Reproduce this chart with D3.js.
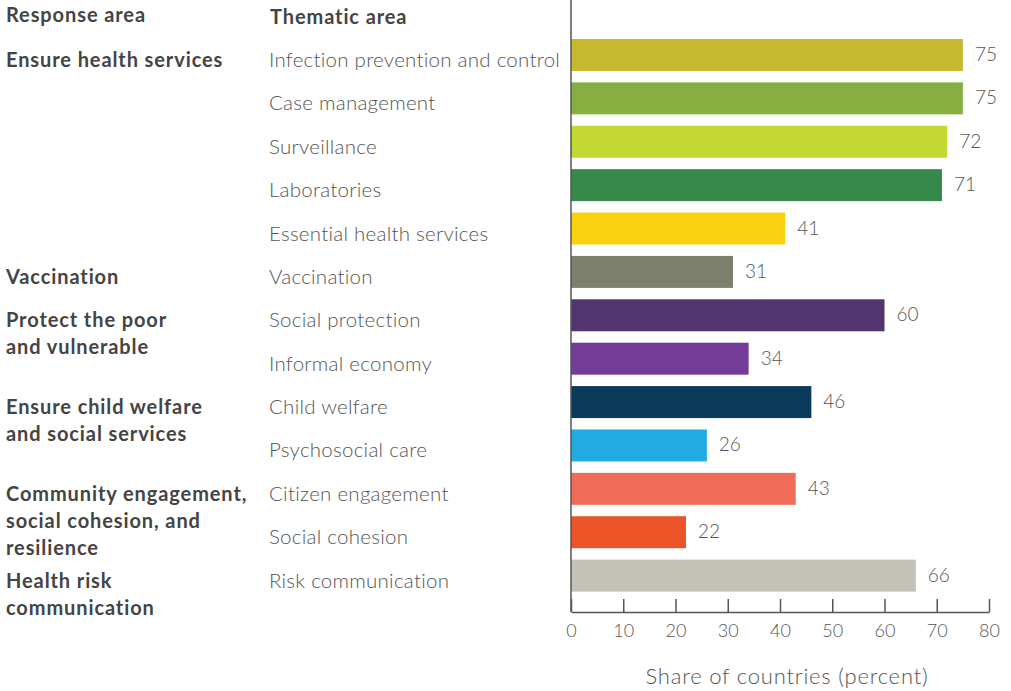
<!DOCTYPE html>
<html>
<head>
<meta charset="utf-8">
<script src="https://cdn.jsdelivr.net/npm/d3@7"></script>
<style>
  body { margin: 0; background: #fff; }
  text { font-family: Lato, "Open Sans", sans-serif; }
  .head, .resp { font-weight: 700; font-size: 20px; fill: #444; letter-spacing: 0.9px; }
  .theme { font-weight: 300; font-size: 20.5px; fill: #555; letter-spacing: 0.25px; }
  .title { font-weight: 300; font-size: 22px; fill: #555; letter-spacing: 0.8px; }
  .val { font-weight: 300; font-size: 19px; fill: #555; }
  .axis text { font-family: Lato, sans-serif; font-weight: 300; font-size: 18px; fill: #555; }
  .axis path, .axis line { stroke: #555; stroke-width: 1.5; }
</style>
</head>
<body>
<svg id="chart" width="1011" height="691"></svg>
<script>
// thematic areas, one bar each
var thematic = [
  "Infection prevention and control", "Case management", "Surveillance",
  "Laboratories", "Essential health services", "Vaccination",
  "Social protection", "Informal economy", "Child welfare",
  "Psychosocial care", "Citizen engagement", "Social cohesion",
  "Risk communication"
];
var shares = [75, 75, 72, 71, 41, 31, 60, 34, 46, 26, 43, 22, 66];
var barColors = [
  "#c5ba2f", "#85af40", "#c3d833", "#36884b", "#f9d10f", "#7c7f6b",
  "#52346f", "#733c96", "#0a3a5b", "#21abe2", "#f06b58", "#ea5427", "#c2c2b9"
];

// response areas (lines of text) and the thematic row they start on
var responseAreas = [
  ["Ensure health services"],
  ["Vaccination"],
  ["Protect the poor", "and vulnerable"],
  ["Ensure child welfare", "and social services"],
  ["Community engagement,", "social cohesion, and", "resilience"],
  ["Health risk", "communication"]
];
var responseStart = [0, 5, 6, 8, 10, 12];

var xTicks = [0, 10, 20, 30, 40, 50, 60, 70, 80];

var svg = d3.select("#chart"),
    left = 571, right = 989, top = 33, bottom = 612;

var x = d3.scaleLinear().domain([0, 80]).range([left, right]);
var y = d3.scaleBand().domain(d3.range(thematic.length))
    .range([39, 591.6]).paddingInner(0.263).paddingOuter(0);

// column headings
svg.append("text").attr("class", "head").attr("x", 6).attr("y", 22).text("Response area");
svg.append("text").attr("class", "head").attr("x", 270).attr("y", 24).text("Thematic area");

// bars
svg.selectAll("rect.bar")
    .data(shares)
    .enter().append("rect")
    .attr("class", "bar")
    .attr("x", x(0))
    .attr("y", function(d, i) { return y(i); })
    .attr("width", function(d) { return x(d) - x(0); })
    .attr("height", y.bandwidth())
    .attr("fill", function(d, i) { return barColors[i]; });

// value labels
svg.selectAll("text.val")
    .data(shares)
    .enter().append("text")
    .attr("class", "val")
    .attr("x", function(d) { return x(d) + 12; })
    .attr("y", function(d, i) { return y(i) + y.bandwidth() / 2 + 6; })
    .text(function(d) { return d; });

// thematic labels
svg.selectAll("text.theme")
    .data(thematic)
    .enter().append("text")
    .attr("class", "theme")
    .attr("x", 269)
    .attr("y", function(d, i) { return y(i) + y.bandwidth() / 2 + 12; })
    .text(function(d) { return d; });

// response area labels
var resp = svg.selectAll("text.resp")
    .data(responseAreas)
    .enter().append("text")
    .attr("class", "resp")
    .attr("y", function(d, i) { return y(responseStart[i]) + y.bandwidth() / 2 + 12; });
resp.selectAll("tspan")
    .data(function(d) { return d; })
    .enter().append("tspan")
    .attr("x", 6)
    .attr("dy", function(d, i) { return i ? 27 : 0; })
    .text(function(d) { return d; });

// y axis line
svg.append("line")
    .attr("x1", left).attr("x2", left)
    .attr("y1", top).attr("y2", bottom)
    .attr("stroke", "#555").attr("stroke-width", 1.5);

// x axis, ticks pointing up
svg.append("g")
    .attr("class", "axis")
    .attr("transform", "translate(0," + bottom + ")")
    .call(d3.axisBottom(x).tickValues(xTicks).tickSizeInner(-13).tickSizeOuter(0).tickPadding(12));

svg.append("text")
    .attr("class", "title")
    .attr("x", 787)
    .attr("y", 684)
    .attr("text-anchor", "middle")
    .text("Share of countries (percent)");
</script>
</body>
</html>
